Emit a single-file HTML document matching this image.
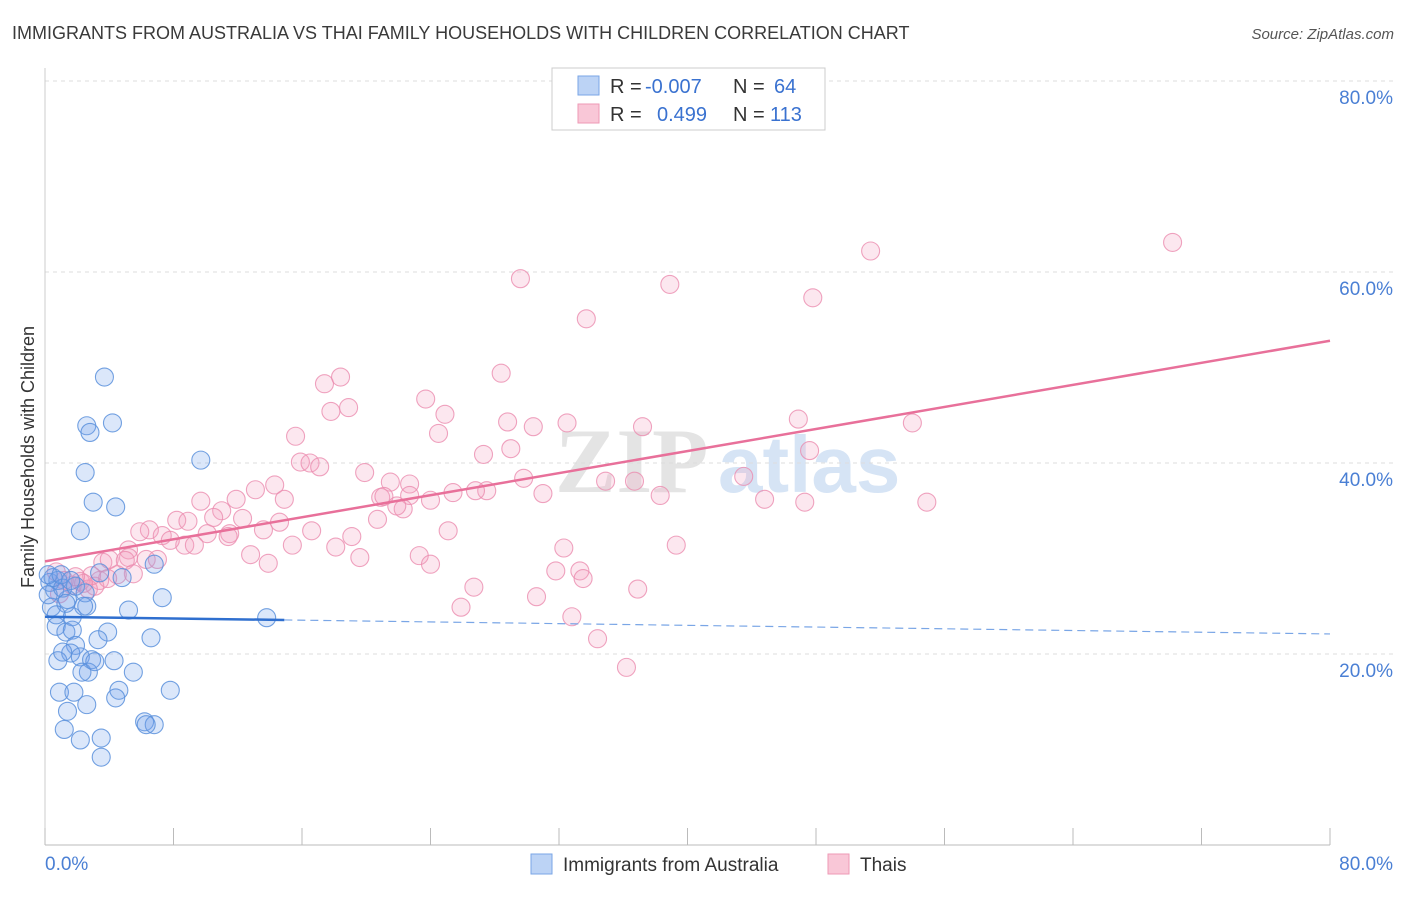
<!DOCTYPE html>
<html><head><meta charset="utf-8"><style>
body{margin:0;background:#fff;font-family:"Liberation Sans",sans-serif}
#c{position:relative;width:1406px;height:892px}
</style></head><body>
<div id="c">
<svg id="s" width="1406" height="892" xmlns="http://www.w3.org/2000/svg">
<text x="12" y="39" font-size="18" fill="#3a3a3a">IMMIGRANTS FROM AUSTRALIA VS THAI FAMILY HOUSEHOLDS WITH CHILDREN CORRELATION CHART</text>
<text x="1394" y="39" font-size="15" fill="#555" text-anchor="end" font-style="italic">Source: ZipAtlas.com</text>
<text x="0" y="0" transform="translate(34,457) rotate(-90)" font-size="18" fill="#333" text-anchor="middle">Family Households with Children</text>
<g><text x="555" y="492" font-size="92" font-family="Liberation Serif" fill="#e4e4e4" font-weight="bold">ZIP</text><text x="718" y="492" font-size="80" fill="#d6e4f5" font-weight="bold">atlas</text></g>
<g id="grid"></g><g id="axes"></g><g id="pts"></g><g id="trend"></g>
<g>
<rect x="552" y="68" width="273" height="62" fill="#fff" stroke="#ccc"/>
<rect x="578" y="76" width="21" height="19" fill="#bcd3f5" stroke="#7aa6e6"/>
<rect x="578" y="104" width="21" height="19" fill="#f9c7d7" stroke="#ee9ab6"/>
<text x="610" y="93" font-size="20" fill="#333">R =</text>
<text x="645" y="93" font-size="20" fill="#3a72d0">-0.007</text>
<text x="733" y="93" font-size="20" fill="#333">N =</text>
<text x="774" y="93" font-size="20" fill="#3a72d0">64</text>
<text x="610" y="121" font-size="20" fill="#333">R =</text>
<text x="657" y="121" font-size="20" fill="#3a72d0">0.499</text>
<text x="733" y="121" font-size="20" fill="#333">N =</text>
<text x="770" y="121" font-size="20" fill="#3a72d0">113</text>
</g>
<g>
<rect x="531" y="854" width="21" height="20" fill="#bcd3f5" stroke="#7aa6e6"/>
<text x="563" y="871" font-size="19" fill="#333">Immigrants from Australia</text>
<rect x="828" y="854" width="21" height="20" fill="#f9c7d7" stroke="#ee9ab6"/>
<text x="860" y="871" font-size="19" fill="#333">Thais</text>
</g>
</svg></div>
<script>
const blueX=[3.7,2.6,2.8,4.2,2.5,9.7,3.0,4.4,2.2,6.8,4.8,7.3,5.2,13.8,3.4,2.6,1.7,1.4,0.6,0.4,0.3,0.2,0.7,1.3,1.7,3.9,3.3,6.6,1.9,1.6,2.2,2.9,4.3,0.8,1.1,2.7,5.5,2.3,4.6,0.9,1.8,4.4,7.8,2.6,1.4,6.2,6.8,1.2,2.2,3.5,3.5,0.8,0.5,1.1,1.9,2.5,1.3,2.4,0.7,0.2,1.0,3.1,6.3,1.6];
const blueY=[49.0,43.9,43.2,44.2,39.0,40.3,35.9,35.4,32.9,29.4,28.0,25.9,24.6,23.8,28.5,25.0,23.9,25.7,26.7,24.9,27.5,26.2,22.9,22.3,22.5,22.3,21.5,21.7,20.9,20.1,19.7,19.4,19.3,19.3,20.2,18.1,18.1,18.1,16.2,16.0,16.0,15.4,16.2,14.7,14.0,12.9,12.6,12.1,11.0,11.2,9.2,27.7,28.0,26.9,27.1,26.4,25.3,25.0,24.1,28.3,28.3,19.2,12.6,27.7];
const pinkX=[70.2,51.4,29.6,38.9,47.8,33.7,28.4,17.4,18.4,18.9,17.8,23.7,24.9,15.6,24.5,28.8,30.4,32.5,37.2,46.9,54.0,47.6,27.3,29.0,15.9,16.5,17.1,19.9,43.5,29.8,34.9,36.7,38.3,31.0,27.5,25.4,26.8,20.9,21.5,22.7,21.1,22.7,22.3,20.7,21.9,24.0,44.8,47.3,54.9,11.9,14.3,14.9,9.7,13.1,11.0,10.5,8.2,8.9,10.1,11.5,13.6,12.3,14.6,16.6,19.1,25.1,6.5,5.9,7.3,8.7,9.3,7.8,11.4,15.4,18.1,32.3,39.3,5.2,6.3,5.2,3.6,4.0,5.0,7.0,12.8,13.9,19.6,23.3,24.0,31.8,33.3,33.5,26.7,30.6,36.9,25.9,32.8,34.4,36.2,5.5,4.5,3.4,3.1,2.7,2.2,1.7,1.2,0.7,0.9,2.9,3.9,2.4,1.9];
const pinkY=[63.1,62.2,59.3,58.7,57.3,55.1,49.4,48.3,49.0,45.8,45.4,46.7,45.1,42.8,43.1,44.3,43.8,44.2,43.8,44.6,44.2,41.3,40.9,41.5,40.1,40.0,39.6,39.0,38.6,38.4,38.1,38.1,36.6,36.8,37.1,36.9,37.1,36.4,38.0,37.8,36.5,36.6,35.2,34.1,35.5,36.1,36.2,35.9,35.9,36.2,37.7,36.2,36.0,37.2,35.0,34.3,34.0,33.9,32.6,32.6,33.0,34.2,33.8,32.9,32.3,32.9,33.0,32.8,32.4,31.4,31.4,31.9,32.3,31.4,31.2,31.1,31.4,30.9,29.9,30.1,29.6,29.9,29.8,29.9,30.4,29.5,30.1,30.3,29.4,28.7,28.7,27.9,27.0,26.0,26.8,24.9,23.9,21.6,18.6,28.4,28.3,27.7,27.1,26.8,27.6,27.2,27.7,28.6,26.3,28.2,27.9,27.4,28.1];
const yTicks=[20,40,60,80];
const xTickLabels=["0.0%","80.0%"];
const blueTrend=[23.9,22.1];
const pinkTrend=[29.7,52.8];
const NS="http://www.w3.org/2000/svg";
const X=v=>45+v*16.0625, Y=v=>845-v*9.55;
function mk(t,a,p){const e=document.createElementNS(NS,t);for(const k in a)e.setAttribute(k,a[k]);p.appendChild(e);return e;}
const grid=document.getElementById('grid'),axes=document.getElementById('axes'),pts=document.getElementById('pts'),tr=document.getElementById('trend');
yTicks.forEach(t=>{const l=mk('line',{x1:45,x2:1394,y1:Y(t),y2:Y(t),stroke:'#ddd','stroke-dasharray':'4,4'},grid);


const tx=mk('text',{x:1393,y:Y(t)+23,'font-size':19,fill:'#4a7fd4','text-anchor':'end'},axes);tx.textContent=t.toFixed(1)+'%';

});
const ax=mk('line',{x1:45,x2:1330,y1:845,y2:845,stroke:'#bbb'},axes);


const ay=mk('line',{x1:45,x2:45,y1:68,y2:845,stroke:'#ccc'},axes);


for(let i=0;i<=10;i++){const t=mk('line',{x1:X(i*8),x2:X(i*8),y1:828,y2:845,stroke:'#bbb'},axes);

}
[[0,'start',45],[80,'end',1393]].forEach((d,i)=>{const t=mk('text',{x:d[2],y:870,'font-size':19,fill:'#4a7fd4','text-anchor':d[1]},axes);t.textContent=xTickLabels[i];

});
function dots(xs,ys,fill,stroke,name){xs.forEach((x,i)=>{const c=mk('circle',{cx:X(x),cy:Y(ys[i]),r:9,fill:fill,stroke:stroke,'stroke-width':1.1},pts);

});}
dots(pinkX,pinkY,'rgba(244,160,190,0.25)','rgba(235,140,175,0.8)','thais-point');
dots(blueX,blueY,'rgba(110,160,235,0.25)','rgba(90,145,220,0.85)','australia-point');
const bx=14.9, bm=blueTrend[0]+(blueTrend[1]-blueTrend[0])*bx/80;
let l=mk('line',{x1:X(0),y1:Y(blueTrend[0]),x2:X(bx),y2:Y(bm),stroke:'#2f6fcf','stroke-width':2.5},tr);


l=mk('line',{x1:X(bx),y1:Y(bm),x2:X(80),y2:Y(blueTrend[1]),stroke:'#7aa6e6','stroke-width':1.2,'stroke-dasharray':'8,5'},tr);


l=mk('line',{x1:X(0),y1:Y(pinkTrend[0]),x2:X(80),y2:Y(pinkTrend[1]),stroke:'#e8709a','stroke-width':2.5},tr);


</script>
</body></html>
